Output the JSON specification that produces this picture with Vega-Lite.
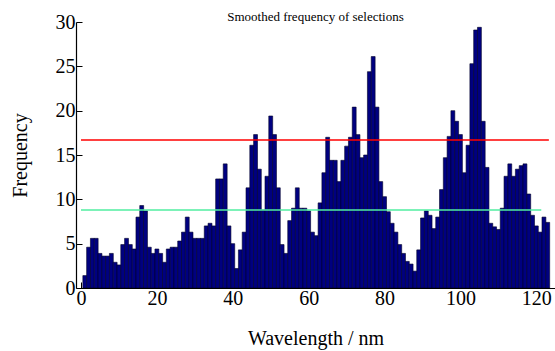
{
  "$schema": "https://vega.github.io/schema/vega-lite/v6.json",
  "width": 479,
  "height": 266,
  "autosize": {"type": "none"},
  "padding": {"left": 76, "top": 22, "right": 0, "bottom": 63},
  "background": "white",
  "config": {
    "view": {"stroke": null},
    "font": "Liberation Serif",
    "axis": {"grid": false, "domainColor": "black", "tickColor": "black", "labelColor": "black", "titleColor": "black", "labelFont": "Liberation Serif", "titleFont": "Liberation Serif", "titleFontWeight": "normal"}
  },
  "title": {"text": "Smoothed frequency of selections", "font": "Liberation Serif", "fontSize": 13, "fontWeight": "normal", "color": "black", "anchor": "middle", "offset": 0, "dy": 12},
  "datasets": {
    "bars": [
      {"w":1,"f":1.4},{"w":2,"f":4.6},{"w":3,"f":5.6},{"w":4,"f":5.6},{"w":5,"f":3.9},{"w":6,"f":3.6},{"w":7,"f":3.6},{"w":8,"f":3.9},{"w":9,"f":2.9},{"w":10,"f":2.6},
      {"w":11,"f":4.9},{"w":12,"f":5.6},{"w":13,"f":4.9},{"w":14,"f":4.4},{"w":15,"f":8.0},{"w":16,"f":9.3},{"w":17,"f":8.7},{"w":18,"f":4.6},{"w":19,"f":3.9},{"w":20,"f":4.4},
      {"w":21,"f":3.9},{"w":22,"f":2.9},{"w":23,"f":4.4},{"w":24,"f":4.6},{"w":25,"f":4.6},{"w":26,"f":5.3},{"w":27,"f":6.3},{"w":28,"f":8.0},{"w":29,"f":6.3},{"w":30,"f":5.6},
      {"w":31,"f":5.6},{"w":32,"f":5.6},{"w":33,"f":7.0},{"w":34,"f":7.3},{"w":35,"f":7.0},{"w":36,"f":12.3},{"w":37,"f":12.3},{"w":38,"f":14.0},{"w":39,"f":7.0},{"w":40,"f":5.0},
      {"w":41,"f":2.2},{"w":42,"f":4.3},{"w":43,"f":6.3},{"w":44,"f":11.3},{"w":45,"f":16.1},{"w":46,"f":17.3},{"w":47,"f":13.4},{"w":48,"f":8.8},{"w":49,"f":12.6},{"w":50,"f":19.4},
      {"w":51,"f":17.3},{"w":52,"f":11.3},{"w":53,"f":4.9},{"w":54,"f":3.9},{"w":55,"f":7.6},{"w":56,"f":9.0},{"w":57,"f":11.3},{"w":58,"f":9.0},{"w":59,"f":9.0},{"w":60,"f":8.7},
      {"w":61,"f":6.3},{"w":62,"f":5.9},{"w":63,"f":9.6},{"w":64,"f":13.0},{"w":65,"f":17.0},{"w":66,"f":14.4},{"w":67,"f":14.4},{"w":68,"f":12.0},{"w":69,"f":14.4},{"w":70,"f":16.0},
      {"w":71,"f":17.0},{"w":72,"f":20.4},{"w":73,"f":17.3},{"w":74,"f":14.7},{"w":75,"f":15.0},{"w":76,"f":24.4},{"w":77,"f":26.1},{"w":78,"f":20.4},{"w":79,"f":12.0},{"w":80,"f":10.3},
      {"w":81,"f":8.6},{"w":82,"f":7.3},{"w":83,"f":6.3},{"w":84,"f":4.9},{"w":85,"f":3.9},{"w":86,"f":3.0},{"w":87,"f":2.7},{"w":88,"f":1.9},{"w":89,"f":4.3},{"w":90,"f":7.9},
      {"w":91,"f":8.7},{"w":92,"f":8.2},{"w":93,"f":6.7},{"w":94,"f":8.0},{"w":95,"f":11.1},{"w":96,"f":14.7},{"w":97,"f":17.1},{"w":98,"f":20.0},{"w":99,"f":18.8},{"w":100,"f":17.3},
      {"w":101,"f":13.0},{"w":102,"f":16.1},{"w":103,"f":25.3},{"w":104,"f":29.1},{"w":105,"f":29.4},{"w":106,"f":18.8},{"w":107,"f":13.6},{"w":108,"f":7.3},{"w":109,"f":6.9},{"w":110,"f":6.6},
      {"w":111,"f":9.0},{"w":112,"f":12.6},{"w":113,"f":14.0},{"w":114,"f":12.6},{"w":115,"f":13.4},{"w":116,"f":13.8},{"w":117,"f":14.0},{"w":118,"f":10.6},{"w":119,"f":8.2},{"w":120,"f":7.0},
      {"w":121,"f":6.3},{"w":122,"f":8.0},{"w":123,"f":7.4}
    ],
    "lines": [
      {"name": "upper", "x0": 0, "x1": 123.3, "y": 16.7},
      {"name": "lower", "x0": 0, "x1": 121.3, "y": 8.8}
    ]
  },
  "layer": [
    {
      "data": {"name": "bars"},
      "mark": {"type": "bar", "width": 3.9, "fill": "#000080", "stroke": "#000028", "strokeWidth": 0.6, "clip": true},
      "encoding": {
        "x": {"field": "w", "type": "quantitative", "scale": {"domain": [0, 123.6], "nice": false, "zero": false},
          "axis": {"title": "Wavelength / nm", "values": [0, 20, 40, 60, 80, 100, 120], "labelFontSize": 20, "titleFontSize": 20, "tickSize": -6, "labelPadding": 6, "titlePadding": 20, "domainWidth": 1.2, "labelFlush": false}},
        "y": {"field": "f", "type": "quantitative", "scale": {"domain": [0, 30], "nice": false},
          "axis": {"title": "Frequency", "values": [0, 5, 10, 15, 20, 25, 30], "labelFontSize": 20, "titleFontSize": 20, "tickSize": -6, "labelPadding": 7, "titlePadding": 25, "domainWidth": 1.2}}
      }
    },
    {
      "data": {"name": "lines"},
      "mark": {"type": "rule", "strokeWidth": 1.5},
      "encoding": {
        "x": {"field": "x0", "type": "quantitative"},
        "x2": {"field": "x1"},
        "y": {"field": "y", "type": "quantitative"},
        "color": {"field": "name", "type": "nominal", "scale": {"domain": ["upper", "lower"], "range": ["#ff0000", "#50eea0"]}, "legend": null}
      }
    }
  ]
}
